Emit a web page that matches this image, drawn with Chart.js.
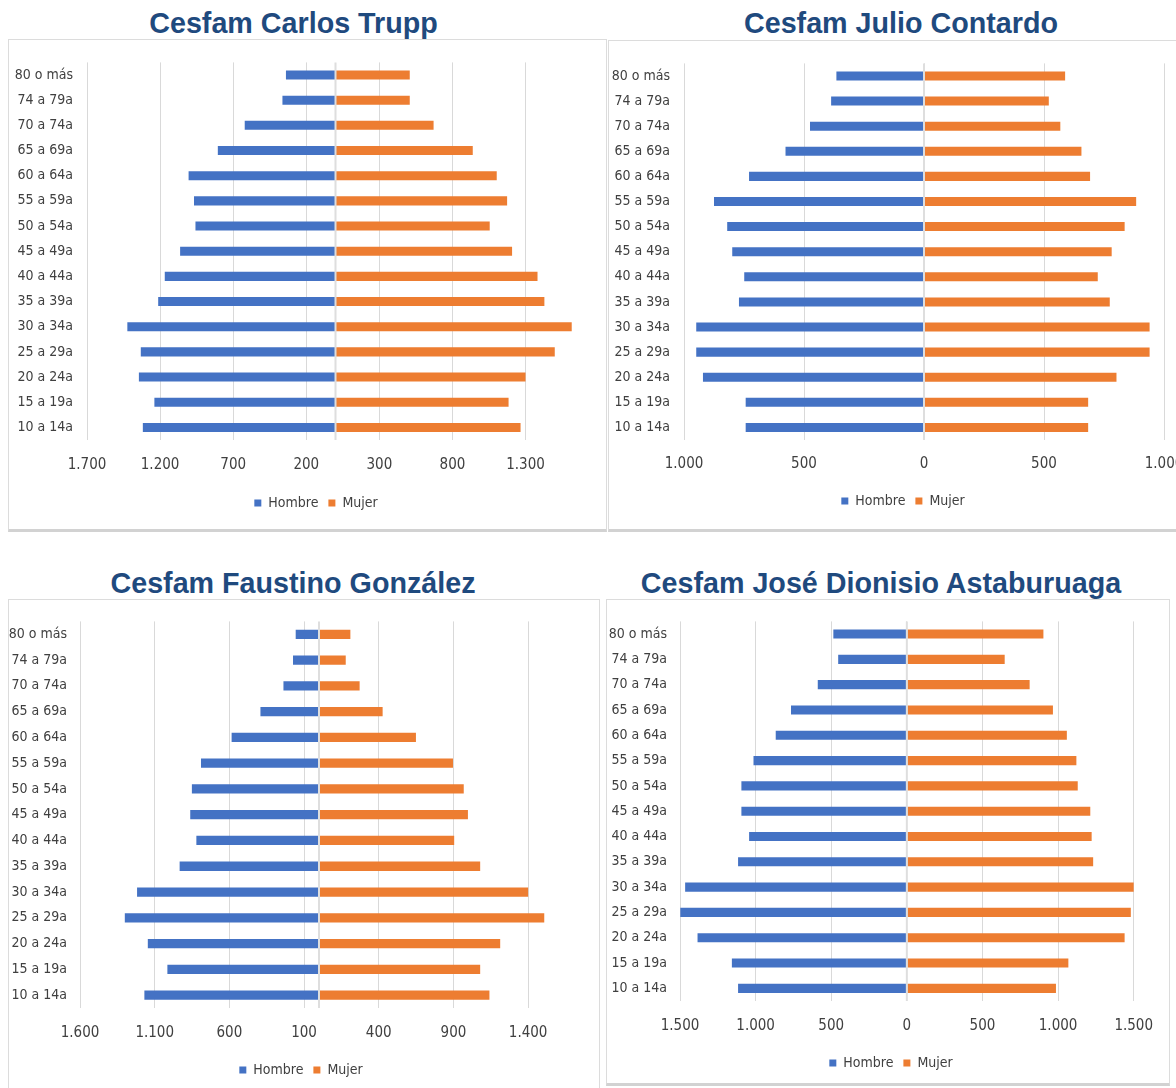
<!DOCTYPE html>
<html><head><meta charset="utf-8">
<script src="https://cdn.jsdelivr.net/npm/chart.js@4.4.1/dist/chart.umd.min.js"></script>
<style>
html,body{margin:0;padding:0;background:#fff;width:1176px;height:1088px;overflow:hidden;position:relative;}
.panel{position:absolute;box-sizing:border-box;border:1px solid #dcdcdc;border-bottom:3px solid #d2d2d2;background:#fff;}
.title{position:absolute;width:700px;text-align:center;font-family:'Liberation Sans',Arial,sans-serif;font-weight:bold;font-size:28.7px;line-height:1;color:#1F4A7E;white-space:nowrap;}
canvas{position:absolute;}
</style></head><body>
<script>
// ---- data ----
const ageGroups = ["80 o más","74 a 79a","70 a 74a","65 a 69a","60 a 64a","55 a 59a","50 a 54a","45 a 49a","40 a 44a","35 a 39a","30 a 34a","25 a 29a","20 a 24a","15 a 19a","10 a 14a"];
const seriesNames = ["Hombre","Mujer"];

const truppHombre = [339,363,621,805,1005,968,958,1063,1168,1213,1424,1332,1345,1239,1318];
const truppMujer  = [508,508,671,939,1103,1174,1055,1208,1382,1429,1616,1500,1300,1184,1266];
const truppTicks  = [-1700,-1200,-700,-200,300,800,1300];

const contardoHombre = [365,387,475,577,729,875,820,799,749,771,949,949,921,743,743];
const contardoMujer  = [588,520,568,656,692,884,836,782,724,774,940,940,802,684,684];
const contardoTicks  = [-1000,-500,0,500,1000];

const gonzalezHombre = [156,174,238,392,585,790,851,862,821,933,1218,1300,1146,1015,1169];
const gonzalezMujer  = [210,179,272,426,649,897,969,997,905,1079,1400,1508,1213,1079,1141];
const gonzalezTicks  = [-1600,-1100,-600,-100,400,900,1400];

const astaHombre = [486,454,589,766,867,1014,1094,1094,1043,1116,1466,1498,1384,1157,1116];
const astaMujer  = [903,647,812,966,1058,1121,1130,1213,1222,1232,1502,1481,1440,1068,986];
const astaTicks  = [-1500,-1000,-500,0,500,1000,1500];

// ---- layout ----
const panels = [
 {title:'Cesfam Carlos Trupp', tx:293.5, ty:9, box:[8,39,599,493], cv:[9,40,597,491],
  h:truppHombre, m:truppMujer, ticks:truppTicks, lim:1700, yW:78, padR:22, padT:22, padB:11, tickPad:16, xH:46, yPad:14, legX:316},
 {title:'Cesfam Julio Contardo', tx:901, ty:9, box:[608,40,600,492], cv:[609,41,600,490],
  h:contardoHombre, m:contardoMujer, ticks:contardoTicks, lim:1000, yW:75, padR:45, padT:21, padB:13, tickPad:15, xH:44, yPad:14, legX:903},
 {title:'Cesfam Faustino González', tx:293, ty:569, box:[8,599,592,500], cv:[9,600,590,488],
  h:gonzalezHombre, m:gonzalezMujer, ticks:gonzalezTicks, lim:1600, yW:71, padR:41, padT:21, padB:1, tickPad:16, xH:45, yPad:13, legX:301},
 {title:'Cesfam José Dionisio Astaburuaga', tx:881, ty:569, box:[606,599,564,487], cv:[607,600,562,484],
  h:astaHombre, m:astaMujer, ticks:astaTicks, lim:1500, yW:73, padR:31, padT:20, padB:4, tickPad:16, xH:45, yPad:13, legX:891}
];

const FONT = "'Liberation Sans Narrow','DejaVu Sans Condensed','Liberation Sans',sans-serif";
const fmt = v => String(Math.abs(v)).replace(/\B(?=(\d{3})+(?!\d))/g, '.');

const zeroLine = {
  id:'zeroLine',
  afterDatasetsDraw(chart){
    const x = chart.scales.x.getPixelForValue(0), a = chart.chartArea, c = chart.ctx;
    c.save(); c.strokeStyle = '#dedede'; c.lineWidth = 2;
    c.beginPath(); c.moveTo(x, a.top); c.lineTo(x, a.bottom); c.stroke(); c.restore();
  }
};
const legendShift = {
  id:'legendShift',
  afterLayout(chart, args, opts){
    const lg = chart.legend;
    if (!lg) return;
    const dx = opts.center - (lg.left + lg.right) / 2;
    lg.left += dx; lg.right += dx;
  }
};

panels.forEach(p => {
  const pd = document.createElement('div');
  pd.className = 'panel';
  Object.assign(pd.style, {left:p.box[0]+'px', top:p.box[1]+'px', width:p.box[2]+'px', height:p.box[3]+'px'});
  document.body.appendChild(pd);
  const t = document.createElement('div');
  t.className = 'title'; t.textContent = p.title;
  Object.assign(t.style, {left:(p.tx-350)+'px', top:p.ty+'px'});
  document.body.appendChild(t);
  const cv = document.createElement('canvas');
  cv.width = p.cv[2]; cv.height = p.cv[3];
  Object.assign(cv.style, {left:p.cv[0]+'px', top:p.cv[1]+'px', width:p.cv[2]+'px', height:p.cv[3]+'px'});
  document.body.appendChild(cv);

  new Chart(cv, {
    type:'bar',
    data:{
      labels: ageGroups,
      datasets:[
        {label:seriesNames[0], data:p.h.map(v => -v), backgroundColor:'#4472C4', borderWidth:0, barPercentage:0.36, categoryPercentage:1},
        {label:seriesNames[1], data:p.m, backgroundColor:'#ED7D31', borderWidth:0, barPercentage:0.36, categoryPercentage:1}
      ]
    },
    options:{
      indexAxis:'y', responsive:false, animation:false, devicePixelRatio:1,
      layout:{padding:{left:0, right:p.padR, top:p.padT, bottom:p.padB}},
      plugins:{
        tooltip:{enabled:false},
        legendShift:{center:p.legX - p.cv[0]},
        legend:{position:'bottom', labels:{boxWidth:7, boxHeight:7, padding:10, color:'#404040', font:{family:FONT, size:14}}}
      },
      scales:{
        x:{
          type:'linear', stacked:true, min:-p.lim, max:p.lim,
          afterBuildTicks: s => { s.ticks = p.ticks.map(v => ({value:v})); },
          afterFit: s => { s.height = p.xH; },
          grid:{color:'#d9d9d9', lineWidth:1, drawTicks:false},
          border:{display:false},
          ticks:{padding:p.tickPad, color:'#404040', font:{family:FONT, size:15}, callback: v => fmt(v), maxRotation:0, autoSkip:false}
        },
        y:{
          type:'category', stacked:true,
          afterFit: s => { s.width = p.yW; },
          grid:{display:false, drawTicks:false},
          border:{display:false},
          ticks:{padding:p.yPad, color:'#404040', font:{family:FONT, size:14}, autoSkip:false}
        }
      }
    },
    plugins:[zeroLine, legendShift]
  });
});
</script>
</body></html>
